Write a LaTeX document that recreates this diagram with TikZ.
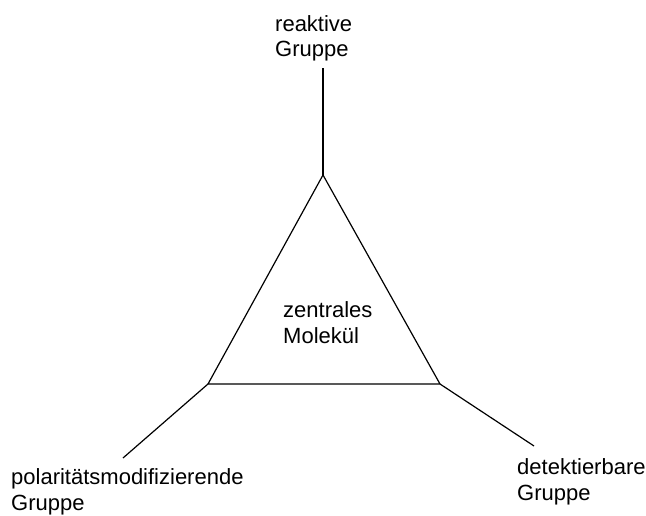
\documentclass[tikz,border=0pt]{standalone}
\usepackage{fontspec}
\setmainfont{Liberation Sans}

\tikzset{
  label text/.style={anchor=base west, align=left, inner sep=0pt,
    font=\fontsize{22}{25.5}\selectfont},
  bond/.style={line width=1.2pt}
}

\begin{document}
\begin{tikzpicture}[x=1pt,y=-1pt]
  \useasboundingbox (0,0) rectangle (646,516);

  % Corners of the triangle
  \coordinate (apex) at (323,175);
  \coordinate (leftcorner) at (208,384);
  \coordinate (rightcorner) at (440,384);
  \draw[bond, line join=miter] (apex) -- (leftcorner) -- (rightcorner) -- cycle;

  % Free ends of the arms
  \coordinate (reactend) at (323,68);
  \coordinate (polarend) at (123,458);
  \coordinate (detectend) at (534,446);
  \draw[bond] (apex) -- (reactend);
  \draw[bond] (leftcorner) -- (polarend);
  \draw[bond] (rightcorner) -- (detectend);

  % Labels
  \node[label text] (reactive) at (275,57) {reaktive\\Gruppe};
  \node[label text] (centre) at (283,343) {zentrales\\Molekül};
  \node[label text] (polar) at (11,510) {polaritätsmodifizierende\\Gruppe};
  \node[label text] (detect) at (517,500) {detektierbare\\Gruppe};
\end{tikzpicture}
\end{document}
